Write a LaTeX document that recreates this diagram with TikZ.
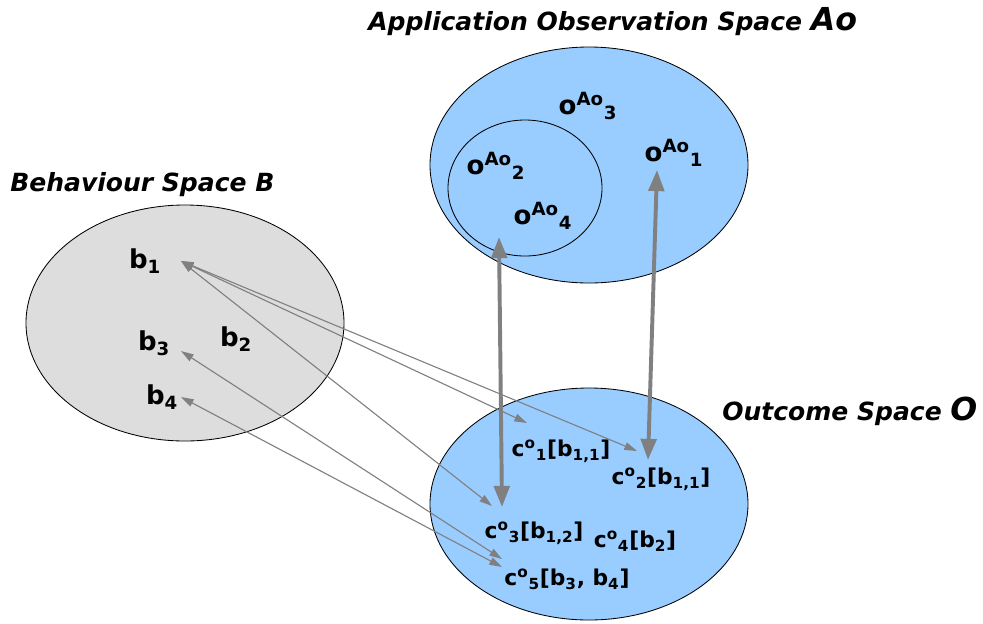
\documentclass[tikz,border=0pt]{standalone}
\usepackage{fontspec}
\setmainfont{DejaVu Sans}
\usetikzlibrary{shapes.geometric}
\usetikzlibrary{arrows.meta}
\definecolor{bgB}{RGB}{221,221,221}
\definecolor{bgO}{RGB}{153,204,255}
\definecolor{ln}{RGB}{128,128,128}

\begin{document}
\begin{tikzpicture} [
    x=0.25mm, y=-0.25mm,
    sp/.style={
        ellipse, draw=black, line width=0.6pt,
        minimum width=79.5mm, minimum height=59mm
    },
    ttl/.style={
        font=\fontsize{17.8}{21}\selectfont\bfseries\itshape,
        inner sep=0pt
    },
    lb/.style={
        font=\fontsize{18.5}{22}\selectfont\bfseries,
        inner sep=0pt
    },
    cl/.style={
        font=\fontsize{15.5}{19}\selectfont\bfseries,
        inner sep=0pt
    },
    thin/.style={
        draw=ln, line width=0.8pt,
        {Triangle[length=9pt,width=5.5pt]}-{Triangle[length=9pt,width=5.5pt]}
    },
    thick/.style={
        draw=ln, line width=2.8pt,
        {Triangle[length=15pt,width=11pt]}-{Triangle[length=15pt,width=11pt]}
    }
]

\useasboundingbox (0,0) rectangle (983,623);

% the three spaces
\node [sp,fill=bgB] (B) at (185,323) {};
\node [sp,fill=bgO] (Ao) at (589,165) {};
\node [sp,fill=none,minimum width=38.5mm,minimum height=34mm] (Ain) at (525,188) {};
\node [sp,fill=bgO,minimum height=58mm] (O) at (589,504) {};

\node [ttl,anchor=west] (tAo) at (368,22)
    {Application Observation Space {\fontsize{22.5}{24}\selectfont Ao}};
\node [ttl,anchor=west] (tB) at (10,185) {Behaviour Space B};
\node [ttl,anchor=west] (tO) at (722,411)
    {Outcome Space {\fontsize{22.5}{24}\selectfont O}};

% behaviours
\node [lb] (b1) at (145,261) {b\textsubscript{1}};
\node [lb] (b2) at (236,339) {b\textsubscript{2}};
\node [lb] (b3) at (154,343) {b\textsubscript{3}};
\node [lb] (b4) at (162,397) {b\textsubscript{4}};

% observations
\node [lb] (o1) at (674,153) {o\textsuperscript{Ao}\textsubscript{1}};
\node [lb] (o2) at (496,166) {o\textsuperscript{Ao}\textsubscript{2}};
\node [lb] (o3) at (588,106) {o\textsuperscript{Ao}\textsubscript{3}};
\node [lb] (o4) at (543,216) {o\textsuperscript{Ao}\textsubscript{4}};

% outcomes
\node [cl] (c1) at (561,451) {c\textsuperscript{o}\textsubscript{1}[b\textsubscript{1,1}]};
\node [cl] (c2) at (661,479) {c\textsuperscript{o}\textsubscript{2}[b\textsubscript{1,1}]};
\node [cl] (c3) at (534,533) {c\textsuperscript{o}\textsubscript{3}[b\textsubscript{1,2}]};
\node [cl] (c4) at (635,541) {c\textsuperscript{o}\textsubscript{4}[b\textsubscript{2}]};
\node [cl] (c5) at (567,579) {c\textsuperscript{o}\textsubscript{5}[b\textsubscript{3}, b\textsubscript{4}]};

% arrow ends
\coordinate (b1e) at (181,261);
\coordinate (b3e) at (181,351);
\coordinate (b4e) at (181,397);
\coordinate (c1e) at (527,423);
\coordinate (c2e) at (637,451);
\coordinate (c3e) at (492,506);
\coordinate (c5a) at (502,559);
\coordinate (c5b) at (502,567);
\coordinate (o4e) at (499,237);
\coordinate (o1e) at (657,170);
\coordinate (c3t) at (502,507);
\coordinate (c2t) at (648,460);

\draw [thin] (b1e) -- (c1e);
\draw [thin] (b1e) -- (c2e);
\draw [thin] (b1e) -- (c3e);
\draw [thin] (b3e) -- (c5a);
\draw [thin] (b4e) -- (c5b);

\draw [thick] (o4e) -- (c3t);
\draw [thick] (o1e) -- (c2t);

\end{tikzpicture}
\end{document}
